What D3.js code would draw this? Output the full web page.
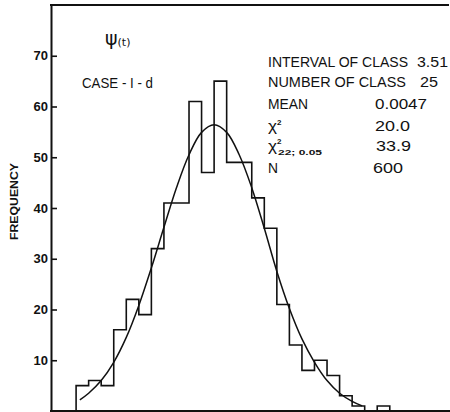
<!DOCTYPE html>
<html>
<head>
<meta charset="utf-8">
<script src="https://cdnjs.cloudflare.com/ajax/libs/d3/7.8.5/d3.min.js"></script>
<style>
	body { margin: 0; background: #fff; }
	svg { display: block; }
	text { font-family: "Liberation Sans Narrow", "Liberation Sans", Arial, sans-serif; fill: #111; }
</style>
</head>
<body>
<div class="chart"></div>
<script>

// class number (0..24) and observed frequency of each class
var classes = [0, 1, 2, 3, 4, 5, 6, 7, 8, 9, 10, 11, 12, 13, 14, 15, 16, 17, 18, 19, 20, 21, 22, 23, 24];
var frequency = [5, 6, 5, 16, 22, 19, 32, 41, 41, 61, 47, 65, 49, 49, 42, 36, 21, 13, 8, 10, 7, 3, 1, 0, 1];

// fitted curve (x in class units)
var curveX = [0.3, 1, 2, 3, 4, 5, 6, 7, 8, 9, 10, 11, 12, 13, 14, 15, 16, 17, 18, 19, 20, 21, 22, 22.8];
var curveY = [2.2, 3.5, 6.0, 9.6, 14.5, 20.8, 28.2, 36.2, 44.0, 50.5, 54.9, 56.4, 54.9, 50.5, 44.0, 36.0, 27.5, 20.2, 14.2, 9.6, 6.0, 3.5, 1.9, 1.0];

var yTicks = [10, 20, 30, 40, 50, 60, 70];

var statLabels = ['INTERVAL OF CLASS', 'NUMBER  OF CLASS', 'MEAN', 'χ', 'χ', 'N'];
var statValues = ['3.51', '25', '0.0047', '20.0', '33.9', '600'];

var histChart = (function() {

	var width = 450, height = 412;

	var init = function() {

		var svg = d3.select('.chart')
					.append('svg')
					.attr('width', width)
					.attr('height', height);

		var x = d3.scaleLinear().domain([-2, 29.8]).range([51, 450]);
		var y = d3.scaleLinear().domain([0, 80]).range([411, 5]);

		drawFrame(svg, x, y);
		drawHistogram(svg, x, y);
		drawCurve(svg, x, y);
		drawTexts(svg);
	};

	var drawFrame = function(svg, x, y) {

		var axis = d3.axisLeft(y)
					.tickValues(yTicks)
					.tickSizeInner(-6)
					.tickSizeOuter(0)
					.tickPadding(3);

		var g = svg.append('g')
					.attr('transform', 'translate(51,0)')
					.call(axis);

		g.select('.domain').attr('stroke', '#111').attr('stroke-width', 2);
		g.selectAll('.tick line').attr('stroke', '#111').attr('stroke-width', 1.6);
		g.selectAll('.tick text')
			.style('font-family', '"Liberation Sans", Arial, sans-serif')
			.style('font-weight', 'bold')
			.style('font-size', '13px')
			.attr('fill', '#111');

		// top and bottom lines of the frame
		svg.append('line')
			.attr('x1', 50).attr('x2', 449)
			.attr('y1', y(80)).attr('y2', y(80))
			.attr('stroke', '#111').attr('stroke-width', 2);

		svg.append('line')
			.attr('x1', 50).attr('x2', 450)
			.attr('y1', y(0)).attr('y2', y(0))
			.attr('stroke', '#111').attr('stroke-width', 2);

		svg.append('text')
			.attr('transform', 'translate(18,240) rotate(-90)')
			.attr('textLength', 77)
			.attr('lengthAdjust', 'spacingAndGlyphs')
			.style('font-family', '"Liberation Sans", Arial, sans-serif')
			.style('font-weight', 'bold')
			.style('font-size', '11px')
			.text('FREQUENCY');
	};

	var drawHistogram = function(svg, x, y) {

		var last = classes.length - 1;
		var pts = [[classes[0], 0]];

		_each(classes, function(c, i) {
			pts.push([c, frequency[i]]);
		});
		pts.push([classes[last] + 1, frequency[last]]);
		pts.push([classes[last] + 1, 0]);

		var step = d3.line()
					.x(function(d) { return x(d[0]); })
					.y(function(d) { return y(d[1]); })
					.curve(d3.curveStepAfter);

		svg.append('path')
			.attr('d', step(pts))
			.attr('fill', 'none')
			.attr('stroke', '#111')
			.attr('stroke-width', 1.6);
	};

	var drawCurve = function(svg, x, y) {

		var line = d3.line()
					.x(function(d, i) { return x(d); })
					.y(function(d, i) { return y(curveY[i]); })
					.curve(d3.curveCatmullRom);

		svg.append('path')
			.attr('d', line(curveX))
			.attr('fill', 'none')
			.attr('stroke', '#111')
			.attr('stroke-width', 1.5);
	};

	var drawTexts = function(svg) {

		// psi(t)
		var psi = svg.append('text')
					.attr('x', 105)
					.attr('y', 45)
					.style('font-family', '"DejaVu Sans", sans-serif')
					.style('font-size', '19px');
		psi.append('tspan').text('ψ');
		psi.append('tspan').attr('dy', 1).style('font-size', '11px').text('(t)');

		svg.append('text')
			.attr('x', 82).attr('y', 88)
			.attr('textLength', 71)
			.attr('lengthAdjust', 'spacingAndGlyphs')
			.style('font-size', '15px')
			.text('CASE - I - d');

		var rows = [
			{ y: 67, lw: 140, vx: 417, vw: 31 },
			{ y: 87, lw: 138, vx: 420, vw: 18 },
			{ y: 109, lw: 40, vx: 375, vw: 52 },
			{ y: 131, lw: 9, vx: 375, vw: 35 },
			{ y: 151, lw: 9, vx: 376, vw: 35 },
			{ y: 173, lw: 10, vx: 373, vw: 30 }
		];

		_each(rows, function(r, i) {

			svg.append('text')
				.attr('x', 268).attr('y', r.y)
				.attr('textLength', r.lw)
				.attr('lengthAdjust', 'spacingAndGlyphs')
				.style('font-size', '15px')
				.text(statLabels[i]);

			svg.append('text')
				.attr('x', r.vx).attr('y', r.y)
				.attr('textLength', r.vw)
				.attr('lengthAdjust', 'spacingAndGlyphs')
				.style('font-size', '15px')
				.text(statValues[i]);
		});

		// superscripts / subscript of the chi rows
		svg.append('text')
			.attr('x', 277).attr('y', 125)
			.style('font-size', '8px').style('font-weight', 'bold')
			.text('2');

		svg.append('text')
			.attr('x', 277).attr('y', 144)
			.style('font-size', '8px').style('font-weight', 'bold')
			.text('2');

		svg.append('text')
			.attr('x', 278).attr('y', 155)
			.attr('textLength', 44)
			.attr('lengthAdjust', 'spacingAndGlyphs')
			.style('font-family', '"Liberation Sans", Arial, sans-serif')
			.style('font-size', '8px').style('font-weight', 'bold')
			.text('22; 0.05');
	};

	var _each = function(list, fn) {
		for (var i = 0; i < list.length; i++) fn(list[i], i);
	};

	return {
		'init': init
	};

})();

histChart.init();
</script>
</body>
</html>
